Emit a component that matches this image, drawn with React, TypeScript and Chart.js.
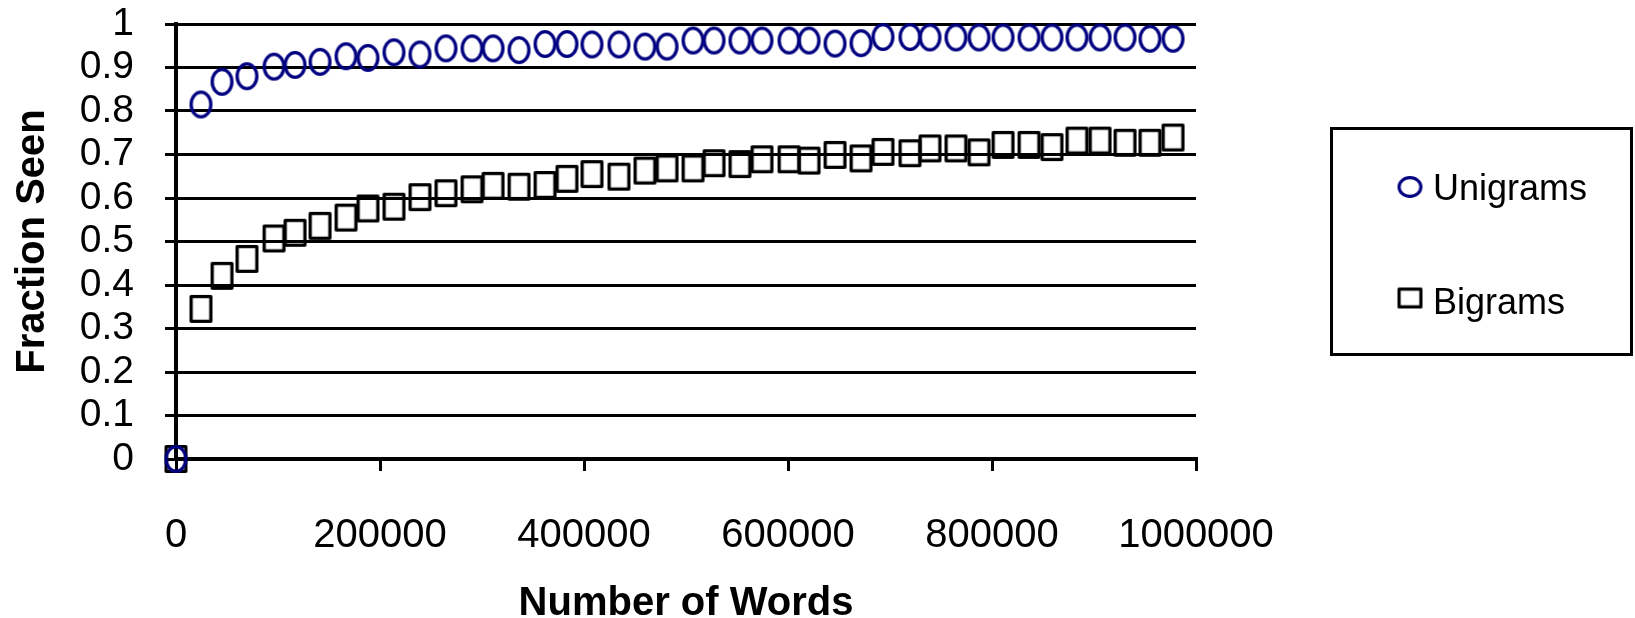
import React, { useEffect, useRef } from 'react';
import { Chart, registerables } from 'chart.js';

Chart.register(...registerables);

// ---- data ----
const WORDS = [
  0, 24500, 45100, 69600, 96100, 116700, 141200, 166700, 188200, 213700,
  239200, 264700, 290200, 310800, 336300, 361800, 383300, 407800, 434300, 459800,
  481400, 506900, 527500, 552900, 574500, 601000, 620600, 646100, 671600, 693100,
  719600, 739200, 764700, 787300, 810800, 836300, 858800, 883300, 905900, 930400,
  954900, 977500,
];

const UNIGRAMS = [
  0, 0.815, 0.867, 0.88, 0.902, 0.906, 0.913, 0.926, 0.922, 0.935,
  0.93, 0.944, 0.944, 0.944, 0.94, 0.954, 0.954, 0.953, 0.953, 0.948,
  0.948, 0.962, 0.962, 0.962, 0.962, 0.962, 0.962, 0.955, 0.956, 0.97,
  0.97, 0.969, 0.969, 0.969, 0.969, 0.969, 0.969, 0.969, 0.969, 0.969,
  0.966, 0.966,
];

const BIGRAMS = [
  0, 0.345, 0.421, 0.46, 0.507, 0.52, 0.536, 0.555, 0.576, 0.58,
  0.602, 0.611, 0.62, 0.628, 0.626, 0.63, 0.644, 0.655, 0.649, 0.663,
  0.668, 0.668, 0.68, 0.678, 0.689, 0.689, 0.686, 0.699, 0.691, 0.706,
  0.703, 0.714, 0.714, 0.705, 0.722, 0.722, 0.717, 0.732, 0.732, 0.727,
  0.727, 0.739,
];

const SERIES_NAMES = ['Unigrams', 'Bigrams'];
const Y_TICK_LABELS = ['0', '0.1', '0.2', '0.3', '0.4', '0.5', '0.6', '0.7', '0.8', '0.9', '1'];
const X_TICK_LABELS = ['0', '200000', '400000', '600000', '800000', '1000000'];
const X_TITLE = 'Number of Words';
const Y_TITLE = 'Fraction Seen';

const FONT = '"Liberation Sans", Arial, Helvetica, sans-serif';
const NAVY = '#000080';

function makeEllipse(outerW: number, outerH: number, lw: number, color: string) {
  const c = document.createElement('canvas');
  c.width = outerW + 2;
  c.height = outerH + 2;
  const g = c.getContext('2d')!;
  g.strokeStyle = color;
  g.lineWidth = lw;
  g.beginPath();
  g.ellipse(c.width / 2, c.height / 2, (outerW - lw) / 2, (outerH - lw) / 2, 0, 0, Math.PI * 2);
  g.stroke();
  return c;
}

function makeRect(outerW: number, outerH: number, lw: number, color: string) {
  const c = document.createElement('canvas');
  c.width = outerW + 2;
  c.height = outerH + 2;
  const g = c.getContext('2d')!;
  g.strokeStyle = color;
  g.lineWidth = lw;
  g.lineJoin = 'round';
  g.strokeRect(1 + lw / 2, 1 + lw / 2, outerW - lw, outerH - lw);
  return c;
}

export default function App() {
  const ref = useRef<HTMLCanvasElement | null>(null);

  useEffect(() => {
    if (!ref.current) return;
    const circle = makeEllipse(23, 28, 3.3, NAVY);
    const square = makeRect(23, 28, 3.3, '#000');
    const legCircle = makeEllipse(25, 22, 3.2, NAVY);
    const legSquare = makeRect(25, 21, 3.2, '#000');

    const legendPlugin = {
      id: 'boxLegend',
      afterDraw(chart: any) {
        const ctx = chart.ctx as CanvasRenderingContext2D;
        ctx.save();
        ctx.lineWidth = 3;
        ctx.strokeStyle = '#000';
        ctx.strokeRect(1331.5, 128.5, 300, 226);
        const items = [
          { img: legCircle, name: SERIES_NAMES[0], cy: 187, base: 200 },
          { img: legSquare, name: SERIES_NAMES[1], cy: 298, base: 314 },
        ];
        ctx.fillStyle = '#000';
        ctx.font = `36px ${FONT}`;
        ctx.textBaseline = 'alphabetic';
        ctx.textAlign = 'left';
        for (const it of items) {
          ctx.drawImage(it.img, 1410 - it.img.width / 2, it.cy - it.img.height / 2);
          ctx.fillText(it.name, 1433, it.base);
        }
        ctx.restore();
      },
    };

    const chart = new Chart(ref.current, {
      type: 'scatter',
      data: {
        datasets: [
          {
            label: SERIES_NAMES[0],
            data: WORDS.map((x, i) => ({ x, y: UNIGRAMS[i] })),
            pointStyle: circle as any,
            pointRadius: 12,
            showLine: false,
            clip: false as any,
          },
          {
            label: SERIES_NAMES[1],
            data: WORDS.map((x, i) => ({ x, y: BIGRAMS[i] })),
            pointStyle: square as any,
            pointRadius: 12,
            showLine: false,
            clip: false as any,
          },
        ],
      },
      options: {
        animation: false,
        responsive: false,
        devicePixelRatio: 1,
        layout: { padding: { left: 0, top: 24, right: 439, bottom: 0 } },
        plugins: {
          legend: { display: false },
          tooltip: { enabled: false },
        },
        scales: {
          x: {
            type: 'linear',
            min: 0,
            max: 1000000,
            afterFit(scale: any) {
              scale.height = 159;
              scale.paddingTop = 0;
              scale.paddingBottom = 0;
            },
            ticks: {
              stepSize: 200000,
              autoSkip: false,
              maxRotation: 0,
              minRotation: 0,
              padding: 41,
              color: '#000',
              font: { family: FONT, size: 40 },
              callback: (_v: any, i: number) => X_TICK_LABELS[i],
            },
            grid: {
              drawOnChartArea: false,
              drawTicks: true,
              tickLength: 12,
              color: '#000',
              lineWidth: 3,
            },
            border: { display: true, color: '#000', width: 4 },
            title: {
              display: true,
              text: X_TITLE,
              color: '#000',
              font: { family: FONT, size: 40, weight: 'bold', lineHeight: 0.7 },
              padding: { top: 0, bottom: 0 },
            },
          },
          y: {
            type: 'linear',
            min: 0,
            max: 1,
            afterFit(scale: any) {
              scale.width = 176;
              scale.paddingTop = 0;
              scale.paddingBottom = 0;
            },
            ticks: {
              stepSize: 0.1,
              autoSkip: false,
              padding: 31,
              color: '#000',
              font: { family: FONT, size: 39 },
              callback: (_v: any, i: number) => Y_TICK_LABELS[i],
            },
            grid: {
              drawOnChartArea: true,
              drawTicks: true,
              tickLength: 11,
              color: '#000',
              lineWidth: 3,
            },
            border: { display: true, color: '#000', width: 4 },
            title: {
              display: true,
              text: Y_TITLE,
              color: '#000',
              font: { family: FONT, size: 40, weight: 'bold', lineHeight: 1 },
              padding: { top: 13, bottom: 0 },
            },
          },
        },
      },
      plugins: [legendPlugin],
    });
    return () => chart.destroy();
  }, []);

  return (
    <div style={{ position: 'absolute', left: 0, top: 0, width: 1635, height: 618, background: '#fff' }}>
      <canvas ref={ref} width={1635} height={618} style={{ display: 'block' }} />
    </div>
  );
}
